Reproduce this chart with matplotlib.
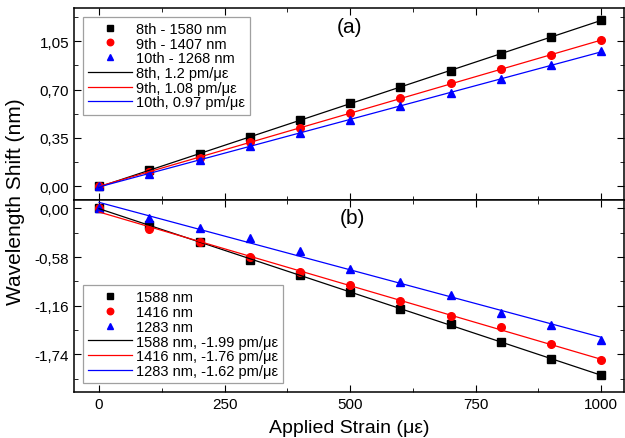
import matplotlib.pyplot as plt
import numpy as np
from matplotlib.ticker import FixedLocator, AutoMinorLocator, FuncFormatter

plt.rcParams['font.family'] = ['Liberation Sans', 'DejaVu Sans']

strain = [0, 100, 200, 300, 400, 500, 600, 700, 800, 900, 1000]

# (a) wavelength shift of the three orders, nm
shift_8th = [0, 0.115, 0.232, 0.357, 0.478, 0.599, 0.715, 0.836, 0.957, 1.082, 1.203]
shift_9th = [0, 0.104, 0.208, 0.317, 0.425, 0.529, 0.636, 0.744, 0.846, 0.947, 1.058]
shift_10th = [0, 0.092, 0.188, 0.290, 0.384, 0.483, 0.580, 0.676, 0.775, 0.877, 0.976]
labels_a = ['8th - 1580 nm', '9th - 1407 nm', '10th - 1268 nm']
fit_labels_a = ['8th, 1.2 pm/\u03bc\u03b5', '9th, 1.08 pm/\u03bc\u03b5', '10th, 0.97 pm/\u03bc\u03b5']

# (b)
shift_1588 = [0, -0.199, -0.405, -0.612, -0.794, -0.993, -1.203, -1.374, -1.596, -1.803, -1.989]
shift_1416 = [0, -0.247, -0.405, -0.576, -0.762, -0.913, -1.104, -1.286, -1.414, -1.616, -1.815]
shift_1283 = [0, -0.119, -0.235, -0.354, -0.505, -0.723, -0.881, -1.033, -1.251, -1.390, -1.569]
labels_b = ['1588 nm', '1416 nm', '1283 nm']
fit_labels_b = ['1588 nm, -1.99 pm/\u03bc\u03b5', '1416 nm, -1.76 pm/\u03bc\u03b5',
                '1283 nm, -1.62 pm/\u03bc\u03b5']

colors = ['black', 'red', 'blue']
markers = ['s', 'o', '^']

fig = plt.figure(figsize=(6.25, 4.39), dpi=100)
ax1 = fig.add_axes([0.1184, 0.542, 0.8796, 0.4375])
ax2 = fig.add_axes([0.1184, 0.105, 0.8796, 0.437], sharex=ax1)

comma = FuncFormatter(lambda v, p: ('%.2f' % v).replace('.', ','))


def panel(ax, series, labels, fit_labels, ticks, loc):
    xs = np.array(strain)
    for ys, c, m, lab in zip(series, colors, markers, labels):
        ax.plot(xs, ys, linestyle='none', marker=m, color=c, markersize=5.5, label=lab)
    for ys, c, lab in zip(series, colors, fit_labels):
        k, b = np.polyfit(xs, ys, 1)
        ax.plot(xs, k * xs + b, color=c, lw=0.9, label=lab)
    ax.yaxis.set_major_locator(FixedLocator(ticks))
    ax.yaxis.set_major_formatter(comma)
    ax.yaxis.set_minor_locator(AutoMinorLocator(2))
    ax.xaxis.set_minor_locator(AutoMinorLocator(2))
    ax.tick_params(which='both', direction='in', top=True, right=True, labelsize=11)
    ax.tick_params(which='major', length=5)
    ax.tick_params(which='minor', length=3)
    for s in ax.spines.values():
        s.set_linewidth(1.1)
    leg = ax.legend(loc=loc, fontsize=10.5, markerscale=0.85,
                    frameon=True, fancybox=False, edgecolor='#888888',
                    handlelength=3, borderaxespad=0.6, labelspacing=0.05,
                    borderpad=0.35, handletextpad=0.3)
    leg.get_frame().set_linewidth(0.9)


panel(ax1, [shift_8th, shift_9th, shift_10th], labels_a, fit_labels_a,
      [0, 0.35, 0.70, 1.05], 'upper left')
panel(ax2, [shift_1588, shift_1416, shift_1283], labels_b, fit_labels_b,
      [0, -0.58, -1.16, -1.74], 'lower left')

ax1.set_ylim(-0.10, 1.29)
ax2.set_ylim(-2.19, 0.10)
ax1.set_xlim(-50, 1045)
ax1.set_xticks([0, 250, 500, 750, 1000])
plt.setp(ax1.get_xticklabels(), visible=False)

ax1.text(0.502, 0.905, '(a)', transform=ax1.transAxes, ha='center', va='center', fontsize=15)
ax2.text(0.507, 0.91, '(b)', transform=ax2.transAxes, ha='center', va='center', fontsize=15)

ax2.set_xlabel('Applied Strain (\u03bc\u03b5)', fontsize=14, labelpad=6)
fig.text(0.025, 0.54, 'Wavelength Shift (nm)', rotation=90, ha='center', va='center', fontsize=15)

fig.savefig('out.png', dpi=100)
